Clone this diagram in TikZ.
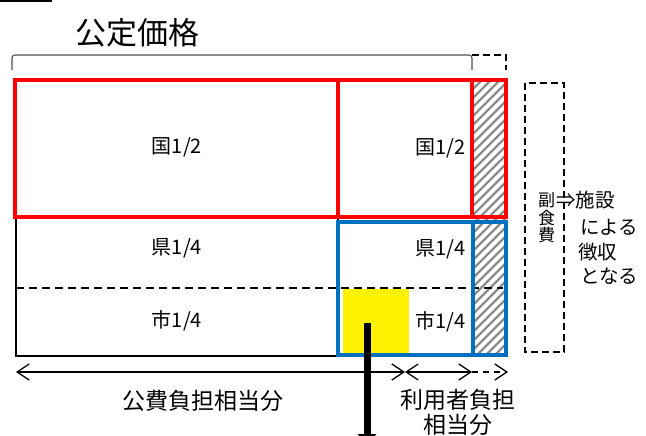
\documentclass[tikz,border=0pt]{standalone}
\usepackage{fontspec}
\setmainfont{Noto Sans CJK JP}
\usetikzlibrary{arrows.meta}
\definecolor{bluec}{HTML}{0070C0}
\definecolor{hatchc}{HTML}{8C8C8C}
\definecolor{brackc}{HTML}{505050}
\begin{document}
\begin{tikzpicture}[x=1pt,y=-1pt,
  redbox/.style={draw=red,line width=4pt},
  bluebox/.style={draw=bluec,line width=4pt},
  lbl/.style={inner sep=0pt,font=\fontsize{20}{20}\selectfont},
  sidetxt/.style={inner sep=0pt,font=\fontsize{19.5}{24.5}\selectfont},
  bottxt/.style={inner sep=0pt,font=\fontsize{23}{25}\selectfont,align=center},
  barb/.tip={Straight Barb[length=12pt,width=16pt,line width=1.3pt]},
  dimline/.style={line width=1.3pt},
  brack/.style={draw=brackc,line width=1.1pt,rounded corners=3pt},
  dashsep/.style={line width=1.4pt,dash pattern=on 8pt off 5pt},
  dashbox/.style={line width=1.2pt,dash pattern=on 7pt off 4pt}]
\useasboundingbox (0,0) rectangle (646,436);
\begin{scope}
\clip (0,0) rectangle (646,436);
% top-left bar
\fill (0,0) rectangle (52,2.5);
% title
\node[inner sep=0pt,font=\fontsize{31}{31}\selectfont] (title) at (137,33) {公定価格};
% bracket
\coordinate (bl) at (12,70);
\coordinate (br) at (472,70);
\coordinate (bd) at (506,70);
\draw[brack] (bl) |- (472,55) -- (br);
\draw[dashbox,draw=black] (472,55) -| (bd);
% hatched column
\begin{scope}
\clip (472,80) rectangle (506,355);
\foreach \k in {0,...,35}{
  \draw[hatchc,line width=2.2pt] (468,76+9*\k) -- (510,34+9*\k);
}
\end{scope}
% left lower box
\draw[line width=1.3pt] (16,216) rectangle (338,356);
% dashed divider
\draw[dashsep] (16,288) -- (503,288);
% yellow square
\fill[yellow] (343,289) rectangle (409,353);
% red boxes
\draw[redbox] (15,80) rectangle (338,216.5);
\draw[redbox] (338,80) rectangle (506,216.5);
\draw[redbox] (472,80) -- (472,216.5);
% blue box
\draw[bluebox] (338,221.5) rectangle (506,355);
\draw[bluebox] (472.5,221.5) -- (472.5,355);
% labels
\node[lbl] (k1) at (177,147) {国1/2};
\node[lbl,anchor=east] (k2) at (466,148) {国1/2};
\node[lbl] (p1) at (177,248) {県1/4};
\node[lbl,anchor=east] (p2) at (466,249) {県1/4};
\node[lbl] (c1) at (177,321) {市1/4};
\node[lbl,anchor=east] (c2) at (466,322) {市1/4};
% side dashed box
\draw[dashbox] (525,83) rectangle (564,352);
\node[inner sep=0pt,font=\fontsize{17}{17.5}\selectfont,align=center] (fuku) at (546.5,218) {副\\食\\費};
\node[sidetxt,anchor=west] (arr) at (556,200.5) {⇒施設};
\node[sidetxt,anchor=west] (niyoru) at (580,227.5) {による};
\node[sidetxt,anchor=west] (choshu) at (578,252.5) {徴収};
\node[sidetxt,anchor=west] (tonaru) at (580,276.5) {となる};
% thick arrow
\coordinate (ta) at (367,323);
\coordinate (tb) at (367,446);
\draw[line width=7pt,-{Triangle[length=12pt,width=18pt]}] (ta) -- (tb);
% dimension arrows
\coordinate (d0) at (16,372);
\coordinate (d1) at (405,372);
\coordinate (d2) at (472,372);
\coordinate (d3) at (508,372);
\draw[dimline,barb-barb] (d0) -- (d1);
\draw[dimline,barb-barb] (d1) -- (d2);
\draw[dimline,dash pattern=on 6pt off 5pt,-barb] (d2) -- (d3);
% bottom texts
\node[bottxt] (kohi) at (203,401) {公費負担相当分};
\node[bottxt] (riyo) at (458,412) {利用者負担\\相当分};
\end{scope}
\end{tikzpicture}
\end{document}
